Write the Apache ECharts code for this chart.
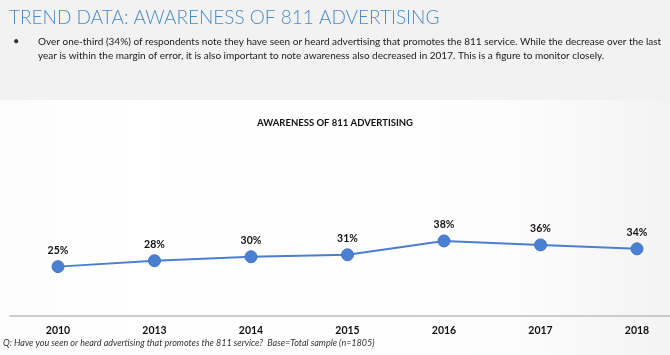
<!DOCTYPE html>
<html>
<head>
<meta charset="utf-8">
<script src="https://cdn.jsdelivr.net/npm/echarts@6/dist/echarts.min.js"></script>
<style>html,body{margin:0;padding:0;background:#fff}#c{width:670px;height:355px}</style>
</head>
<body>
<div id="c"></div>
<script>
var years = ['2010', '2013', '2014', '2015', '2016', '2017', '2018'];
var awareness = [25, 28, 30, 31, 38, 36, 34];
var pageTitle = 'TREND DATA: AWARENESS OF 811 ADVERTISING';
var bulletLines = [
  'Over one-third (34%) of respondents note they have seen or heard advertising that promotes the 811 service. While the decrease over the last',
  'year is within the margin of error, it is also important to note awareness also decreased in 2017. This is a figure to monitor closely.'
];
var chartTitle = 'AWARENESS OF 811 ADVERTISING';
var footnote = 'Q: Have you seen or heard advertising that promotes the 811 service?  Base=Total sample (n=1805)';

var chart = echarts.init(document.getElementById('c'));
chart.setOption({
  backgroundColor: {
    type: 'linear', x: 0, y: 0, x2: 1, y2: 0,
    colorStops: [{offset: 0, color: '#fcfcfc'}, {offset: 0.2, color: '#ffffff'}, {offset: 0.75, color: '#fdfdfd'}, {offset: 1, color: '#f3f3f3'}]
  },
  graphic: [
    {type: 'rect', left: 0, top: 0, shape: {width: 670, height: 100}, style: {fill: '#f2f2f2'}, z: -1},
    {type: 'text', left: 9, top: 8, style: {text: pageTitle, fill: '#4a8bc6', font: '300 19px Lato'}},
    {type: 'text', left: 13, top: 36, style: {text: '•', fill: '#333', font: '11px Lato'}},
    {type: 'text', left: 38, top: 37, style: {text: bulletLines[0], fill: '#1a1a1a', font: '10px Lato'}},
    {type: 'text', left: 38, top: 51, style: {text: bulletLines[1], fill: '#1a1a1a', font: '10px Lato'}},
    {type: 'text', left: 3, top: 339, style: {text: footnote, fill: '#333', font: 'italic 9px Lato'}}
  ],
  title: {
    text: chartTitle, left: 'center', top: 113,
    textStyle: {fontFamily: 'Lato', fontWeight: 'bold', fontSize: 9.5, color: '#111'}
  },
  grid: [
    {left: 58, right: 33, top: 158, bottom: 39},
    {left: 10, right: 0, top: 158, bottom: 39}
  ],
  xAxis: [{
    type: 'category', data: years, boundaryGap: false, gridIndex: 0,
    axisLine: {show: false},
    axisTick: {show: false},
    axisLabel: {fontFamily: 'Lato', fontWeight: 'bold', fontSize: 10.5, color: '#111', margin: 9}
  }, {
    type: 'category', data: ['a', 'b'], gridIndex: 1, position: 'bottom', show: true,
    axisLine: {show: true, onZero: false, lineStyle: {color: '#bdbdbd', width: 1.5, type: 'solid'}},
    axisTick: {show: false}, axisLabel: {show: false}, splitLine: {show: false}
  }],
  yAxis: [
    {type: 'value', min: 0, max: 80, show: false, splitLine: {show: false}, gridIndex: 0},
    {type: 'value', min: 0, max: 80, show: false, splitLine: {show: false}, gridIndex: 1}
  ],
  series: [{
    type: 'line', data: awareness, symbol: 'circle', symbolSize: 12,
    lineStyle: {color: '#4a7ecf', width: 2},
    itemStyle: {color: '#4a80d2', borderColor: '#4575c0', borderWidth: 1},
    label: {show: true, position: 'top', distance: 4, formatter: '{c}%', fontFamily: 'Lato', fontWeight: 'bold', fontSize: 10.5, color: '#111'}
  }, {
    type: 'line', data: [null, null], xAxisIndex: 1, yAxisIndex: 1, silent: true, symbol: 'none'
  }]
});
</script>
</body>
</html>
